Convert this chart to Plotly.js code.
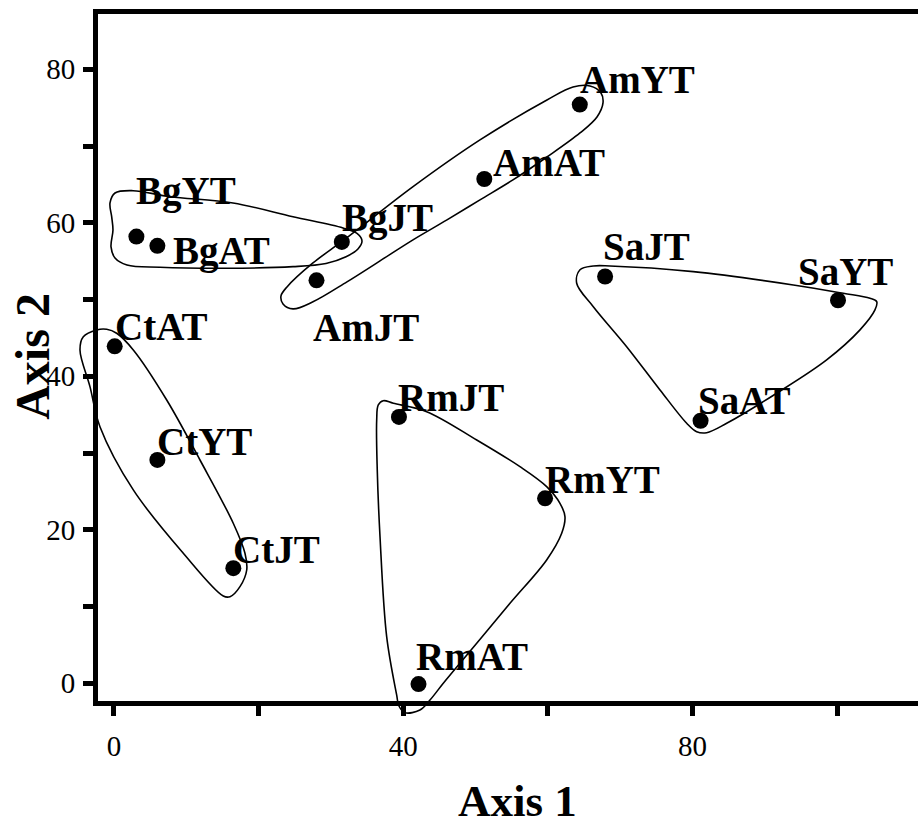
<!DOCTYPE html>
<html><head><meta charset="utf-8">
<script src="https://cdn.plot.ly/plotly-3.0.1.min.js"></script>
<style>html,body{margin:0;padding:0;background:#fff;overflow:hidden}</style>
</head><body><div id="chart" style="width:918px;height:825px"></div>
<script>
// ---- data ----
const labels = ['AmYT','AmAT','AmJT','BgYT','BgAT','BgJT','SaJT','SaYT','SaAT','CtAT','CtYT','CtJT','RmJT','RmYT','RmAT'];
const axis1  = [64.4, 51.2, 28.0, 3.1, 6.0, 31.5, 67.9, 100.1, 81.1, 0.1, 6.0, 16.5, 39.4, 59.6, 42.1];
const axis2  = [75.4, 65.7, 52.5, 58.2, 57.0, 57.5, 53.0, 49.9, 34.2, 43.9, 29.1, 15.0, 34.7, 24.1, -0.1];

// group outlines (data coordinates)
const hullBgX = [16.45, 24.75, 31.66, 33.60, 34.29, 33.73, 32.08, 29.31, 24.75, 15.58, 6.36, 1.80, 0.14, -0.41, -0.14, -0.32, -0.55, 0.14, 2.63, 7.74, 16.45];
const hullBgY = [62.58, 60.79, 59.32, 58.61, 57.63, 56.59, 55.58, 54.70, 54.28, 54.07, 54.20, 54.50, 55.41, 56.85, 59.06, 60.80, 62.58, 63.88, 64.18, 63.40, 62.58];
const hullAmX = [41.30, 50.60, 59.86, 63.46, 65.81, 67.33, 67.61, 66.78, 64.43, 59.86, 55.16, 50.60, 46.04, 41.34, 36.78, 32.21, 27.51, 24.75, 23.37, 23.09, 23.92, 27.51, 31.25, 33.60, 41.30];
const hullAmY = [64.67, 70.79, 76.00, 77.69, 77.82, 76.91, 75.61, 73.79, 71.70, 68.57, 65.58, 62.98, 60.37, 57.77, 55.03, 52.30, 49.70, 48.78, 49.43, 50.47, 51.64, 54.76, 57.37, 59.06, 64.67];
const hullSaX = [80.09, 93.92, 100.83, 104.52, 105.45, 105.21, 103.14, 98.53, 91.62, 84.71, 81.94, 80.56, 79.18, 75.49, 70.88, 66.27, 63.97, 64.43, 66.27, 68.58, 80.09];
const hullSaY = [53.63, 51.90, 50.81, 50.16, 49.72, 48.64, 46.04, 42.13, 37.79, 33.88, 32.65, 32.78, 33.88, 38.22, 43.86, 49.07, 52.12, 53.87, 54.37, 54.37, 53.63];
const hullCtX = [7.29, 11.89, 16.49, 18.11, 18.35, 17.42, 16.04, 15.11, 9.58, 2.67, -1.94, -3.32, -4.70, -4.24, -2.39, -1.01, 0.37, 2.67, 7.29];
const hullCtY = [36.91, 29.09, 20.85, 16.94, 14.76, 12.59, 11.28, 11.37, 16.94, 25.19, 33.43, 38.65, 43.43, 45.16, 46.04, 46.12, 45.60, 43.43, 36.91];
const hullRmX = [50.15, 56.13, 59.82, 61.66, 62.35, 61.90, 59.82, 54.75, 50.15, 45.53, 43.69, 42.30, 40.23, 39.40, 39.08, 37.70, 36.78, 36.40, 36.32, 36.54, 37.23, 38.62, 43.23, 50.15];
const hullRmY = [31.70, 28.22, 25.62, 23.45, 21.71, 19.54, 16.07, 10.42, 5.21, 0.00, -2.18, -3.48, -3.83, -2.96, -1.52, 6.07, 19.10, 27.79, 34.31, 36.26, 36.82, 36.48, 35.39, 31.70];

const xTickVals = [0, 20, 40, 60, 80, 100];
const xTickText = ['0', '', '40', '', '80', ''];
const yTickVals = [0, 10, 20, 30, 40, 50, 60, 70, 80];
const yTickText = ['0', '', '20', '', '40', '', '60', '', '80'];
const xTitle = 'Axis 1';
const yTitle = 'Axis 2';

// ---- layout / style ----
const labelShift = { // [xshift, yshift] in px
  AmYT:[2,25], AmAT:[11,17], AmJT:[-2,-47], BgYT:[2,46], BgAT:[18,-5], BgJT:[2,24],
  SaJT:[0,30], SaYT:[-38,29], SaAT:[-1,20], CtAT:[2,20], CtYT:[2,18], CtJT:[2,19],
  RmJT:[1,19], RmYT:[2,19], RmAT:[0,28]
};
const labelPadFix = -3;
const serif = 'Liberation Serif, Times New Roman, serif';
const W = 918, H = 825;
const margin = {l:72, r:0, t:10, b:105, pad:0};
const pw = W - margin.l - margin.r, ph = H - margin.t - margin.b;
const xr = [-2.21, 111.16], yr = [-2.31, 87.2];
const xdom = [26/pw, 1], ydom = [19/ph, 706/ph];
function ext(r, d){ const s = (r[1]-r[0])/(d[1]-d[0]); return [r[0]-d[0]*s, r[1]+(1-d[1])*s]; }

const hullLine = {color:'#000', width:1.6, shape:'spline', smoothing:1};
const hulls = [[hullBgX,hullBgY],[hullAmX,hullAmY],[hullSaX,hullSaY],[hullCtX,hullCtY],[hullRmX,hullRmY]];
const traces = hulls.map(h => ({x:h[0], y:h[1], xaxis:'x2', yaxis:'y2', type:'scatter', mode:'lines', line:hullLine, hoverinfo:'skip'}));
traces.push({x:axis1, y:axis2, text:labels, type:'scatter', mode:'markers', marker:{size:16, color:'#000'}, cliponaxis:false, xaxis:'x', yaxis:'y'});

const annotations = labels.map((t,i) => ({
  x:axis1[i], y:axis2[i], xref:'x', yref:'y', text:t, showarrow:false,
  xanchor:'left', yanchor:'middle', xshift:labelShift[t][0] + labelPadFix, yshift:labelShift[t][1], borderpad:0,
  font:{family:serif, size:39, color:'#000', weight:700}
}));
annotations.push({xref:'paper', yref:'paper', x:(517.5-margin.l)/pw, y:(margin.t+ph-801)/ph, text:xTitle, showarrow:false,
  xanchor:'center', yanchor:'middle', font:{family:serif, size:45, color:'#000', weight:700}});
annotations.push({xref:'paper', yref:'paper', x:(31.8-margin.l)/pw, y:(margin.t+ph-356)/ph, text:yTitle, showarrow:false, textangle:-90,
  xanchor:'center', yanchor:'middle', font:{family:serif, size:48, color:'#000', weight:700}});

const axBase = {showline:true, linewidth:5, linecolor:'#000', ticks:'outside', ticklen:10, tickwidth:5, tickcolor:'#000',
  tickmode:'array', showgrid:false, zeroline:false, tickfont:{family:serif, size:29, color:'#000'}};

const layout = {
  width:W, height:H, margin:margin, showlegend:false,
  paper_bgcolor:'#fff', plot_bgcolor:'rgba(0,0,0,0)',
  xaxis:Object.assign({}, axBase, {domain:xdom, range:xr, tickvals:xTickVals, ticktext:xTickText, mirror:true, anchor:'y', ticklabelstandoff:5}),
  yaxis:Object.assign({}, axBase, {domain:ydom, range:yr, tickvals:yTickVals, ticktext:yTickText, mirror:false, anchor:'x', ticklabelstandoff:2}),
  xaxis2:{domain:[0,1], range:ext(xr,xdom), visible:false, anchor:'y2', fixedrange:true},
  yaxis2:{domain:[0,1], range:ext(yr,ydom), visible:false, anchor:'x2', fixedrange:true},
  annotations:annotations
};
Plotly.newPlot('chart', traces, layout, {displayModeBar:false, staticPlot:true});
</script></body></html>
